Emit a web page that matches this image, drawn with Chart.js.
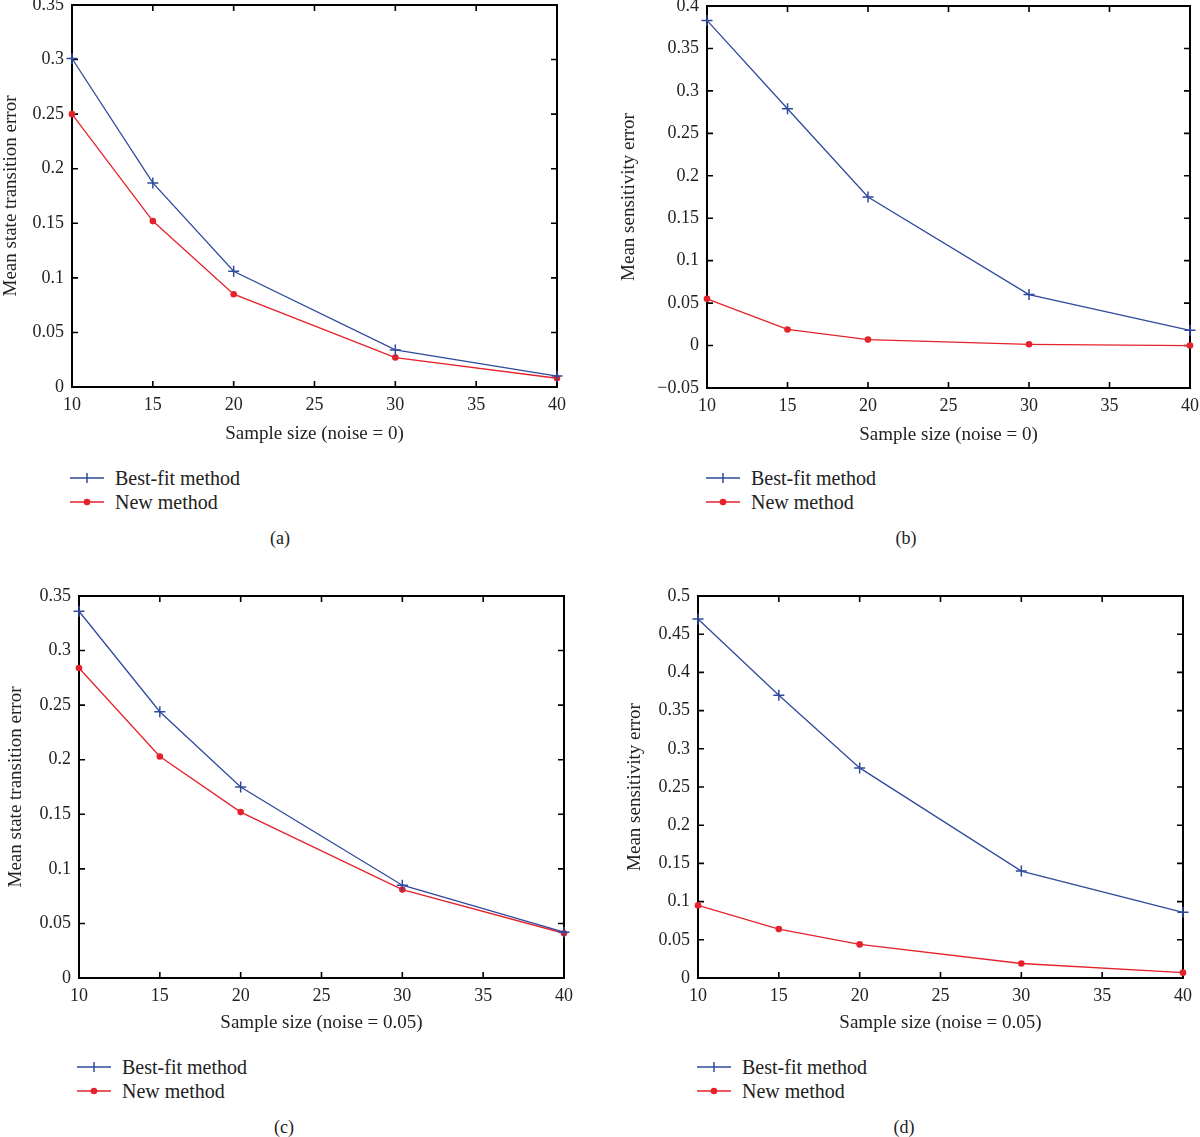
<!DOCTYPE html>
<html>
<head>
<meta charset="utf-8">
<script src="https://cdn.jsdelivr.net/npm/chart.js@4"></script>
<style>
  html, body { margin: 0; padding: 0; background: #fff; }
  body { width: 1200px; height: 1137px; position: relative; overflow: hidden;
         font-family: "Liberation Serif", "DejaVu Serif", serif; color: #222; }
  .panel { position: absolute; }
  .legend { position: absolute; font-size: 20px; line-height: 24px; }
  .legend .row { display: flex; align-items: center; height: 24px; }
  .legend svg { margin-right: 11px; }
  .caption { position: absolute; font-size: 18px; transform: translate(-50%, -50%); }
</style>
</head>
<body>

<script>
// sample sizes on the x axis
const sampleSizes = [10, 15, 20, 30, 40];
const xTicks = [10, 15, 20, 25, 30, 35, 40];

// (a) mean state transition error, noise = 0
const aBestFit = [0.301, 0.187, 0.106, 0.034, 0.010];
const aNew     = [0.250, 0.152, 0.085, 0.027, 0.008];
// (b) mean sensitivity error, noise = 0
const bBestFit = [0.383, 0.279, 0.175, 0.060, 0.018];
const bNew     = [0.055, 0.019, 0.007, 0.0015, 0.0];
// (c) mean state transition error, noise = 0.05
const cBestFit = [0.336, 0.244, 0.175, 0.085, 0.042];
const cNew     = [0.284, 0.203, 0.152, 0.081, 0.041];
// (d) mean sensitivity error, noise = 0.05
const dBestFit = [0.470, 0.370, 0.275, 0.140, 0.086];
const dNew     = [0.095, 0.064, 0.044, 0.019, 0.007];

const seriesNames = ["Best-fit method", "New method"];
const BLUE = "#2f4a9c";
const RED = "#e5222b";
const FONT = "'Liberation Serif', 'DejaVu Serif', serif";

// matlab-like box with inward ticks on all four sides
const boxFrame = {
  id: "boxFrame",
  beforeDatasetsDraw(chart) {
    const { ctx, chartArea: a, scales: { x, y } } = chart;
    ctx.save();
    ctx.strokeStyle = "#000";
    ctx.lineWidth = 2;
    ctx.strokeRect(a.left, a.top, a.right - a.left, a.bottom - a.top);
    ctx.lineWidth = 1.6;
    ctx.beginPath();
    x.ticks.forEach(t => {
      const px = x.getPixelForValue(t.value);
      ctx.moveTo(px, a.bottom); ctx.lineTo(px, a.bottom - 6);
      ctx.moveTo(px, a.top); ctx.lineTo(px, a.top + 6);
    });
    y.ticks.forEach(t => {
      const py = y.getPixelForValue(t.value);
      ctx.moveTo(a.left, py); ctx.lineTo(a.left + 6, py);
      ctx.moveTo(a.right, py); ctx.lineTo(a.right - 6, py);
    });
    ctx.stroke();
    ctx.restore();
  }
};

function fmt(v) {
  const r = Math.round(v * 100) / 100;
  return String(r).replace("-", "\u2212");
}

function toPoints(ys) {
  return sampleSizes.map((s, i) => ({ x: s, y: ys[i] }));
}

// one panel: canvas placement + axis layout
function makePanel(p) {
  const div = document.createElement("div");
  div.className = "panel";
  div.style.left = p.left + "px";
  div.style.top = p.top + "px";
  div.style.width = p.width + "px";
  div.style.height = p.height + "px";
  const canvas = document.createElement("canvas");
  div.appendChild(canvas);
  document.body.appendChild(div);

  new Chart(canvas.getContext("2d"), {
    type: "line",
    data: {
      datasets: [
        {
          label: seriesNames[0], data: toPoints(p.best),
          borderColor: BLUE, backgroundColor: BLUE, borderWidth: 1.3,
          pointStyle: "cross", pointRadius: 5.5, pointBorderWidth: 1.5,
          clip: false
        },
        {
          label: seriesNames[1], data: toPoints(p.newer),
          borderColor: RED, backgroundColor: RED, borderWidth: 1.3,
          pointStyle: "circle", pointRadius: 3.3, pointBorderWidth: 0,
          clip: false
        }
      ]
    },
    options: {
      responsive: true,
      maintainAspectRatio: false,
      animation: false,
      layout: { padding: { top: 20, right: 20, bottom: 0, left: 0 } },
      plugins: { legend: { display: false }, tooltip: { enabled: false } },
      scales: {
        x: {
          type: "linear", min: 10, max: 40,
          afterBuildTicks: (s) => { s.ticks = xTicks.map(v => ({ value: v })); },
          afterFit: (s) => { s.height = 60; },
          grid: { display: false, drawTicks: false },
          border: { display: false },
          ticks: { color: "#222", padding: 7, font: { family: FONT, size: 18 } },
          title: {
            display: true, text: p.xTitle, color: "#222",
            padding: { top: 0, bottom: p.xTitlePad }, font: { family: FONT, size: 19 }
          }
        },
        y: {
          min: p.yMin, max: p.yMax,
          afterBuildTicks: (s) => { s.ticks = p.yTicks.map(v => ({ value: v })); },
          afterFit: (s) => { s.width = p.yWidth; },
          grid: { display: false, drawTicks: false },
          border: { display: false },
          ticks: { color: "#222", padding: 8, font: { family: FONT, size: 18 },
                   callback: (v) => fmt(v) },
          title: {
            display: true, text: p.yTitle, color: "#222",
            padding: { top: p.yTitlePad, bottom: 0 }, font: { family: FONT, size: 19 }
          }
        }
      }
    },
    plugins: [boxFrame]
  });
}

function legendIcon(kind) {
  const color = kind === "best" ? BLUE : RED;
  const mark = kind === "best"
    ? `<line x1="17" y1="2" x2="17" y2="12" stroke="${color}" stroke-width="1.5"/>`
    : `<circle cx="17" cy="7" r="3.3" fill="${color}"/>`;
  return `<svg width="34" height="14" viewBox="0 0 34 14">
    <line x1="0" y1="7" x2="34" y2="7" stroke="${color}" stroke-width="1.5"/>${mark}</svg>`;
}

function makeLegend(left, top) {
  const el = document.createElement("div");
  el.className = "legend";
  el.style.left = left + "px";
  el.style.top = top + "px";
  el.innerHTML =
    `<div class="row">${legendIcon("best")}<span>${seriesNames[0]}</span></div>` +
    `<div class="row">${legendIcon("new")}<span>${seriesNames[1]}</span></div>`;
  document.body.appendChild(el);
}

function makeCaption(text, cx, cy) {
  const el = document.createElement("div");
  el.className = "caption";
  el.style.left = cx + "px";
  el.style.top = cy + "px";
  el.textContent = text;
  document.body.appendChild(el);
}

const ticks035 = [0, 0.05, 0.1, 0.15, 0.2, 0.25, 0.3, 0.35];
const ticksB = [-0.05, 0, 0.05, 0.1, 0.15, 0.2, 0.25, 0.3, 0.35, 0.4];
const ticksD = [0, 0.05, 0.1, 0.15, 0.2, 0.25, 0.3, 0.35, 0.4, 0.45, 0.5];

// chart area targets: (a) 72-557 x 5-387, (b) 707-1190 x 6-388,
// (c) 79-564 x 596-978, (d) 698-1183 x 596-978
makePanel({ left: 0, top: -15, width: 577, height: 462, yWidth: 72, yTitlePad: 0, xTitlePad: 2,
  yMin: 0, yMax: 0.35, yTicks: ticks035, best: aBestFit, newer: aNew,
  xTitle: "Sample size (noise = 0)", yTitle: "Mean state transition error" });
makePanel({ left: 600, top: -14, width: 610, height: 462, yWidth: 107, yTitlePad: 18, xTitlePad: 2,
  yMin: -0.05, yMax: 0.4, yTicks: ticksB, best: bBestFit, newer: bNew,
  xTitle: "Sample size (noise = 0)", yTitle: "Mean sensitivity error" });
makePanel({ left: 0, top: 576, width: 584, height: 462, yWidth: 79, yTitlePad: 5, xTitlePad: 4,
  yMin: 0, yMax: 0.35, yTicks: ticks035, best: cBestFit, newer: cNew,
  xTitle: "Sample size (noise = 0.05)", yTitle: "Mean state transition error" });
makePanel({ left: 600, top: 576, width: 603, height: 462, yWidth: 98, yTitlePad: 24, xTitlePad: 4,
  yMin: 0, yMax: 0.5, yTicks: ticksD, best: dBestFit, newer: dNew,
  xTitle: "Sample size (noise = 0.05)", yTitle: "Mean sensitivity error" });

makeLegend(70, 466);
makeLegend(706, 466);
makeLegend(77, 1055);
makeLegend(697, 1055);

makeCaption("(a)", 280, 538);
makeCaption("(b)", 906, 538);
makeCaption("(c)", 284, 1127);
makeCaption("(d)", 904, 1127);
</script>
</body>
</html>
